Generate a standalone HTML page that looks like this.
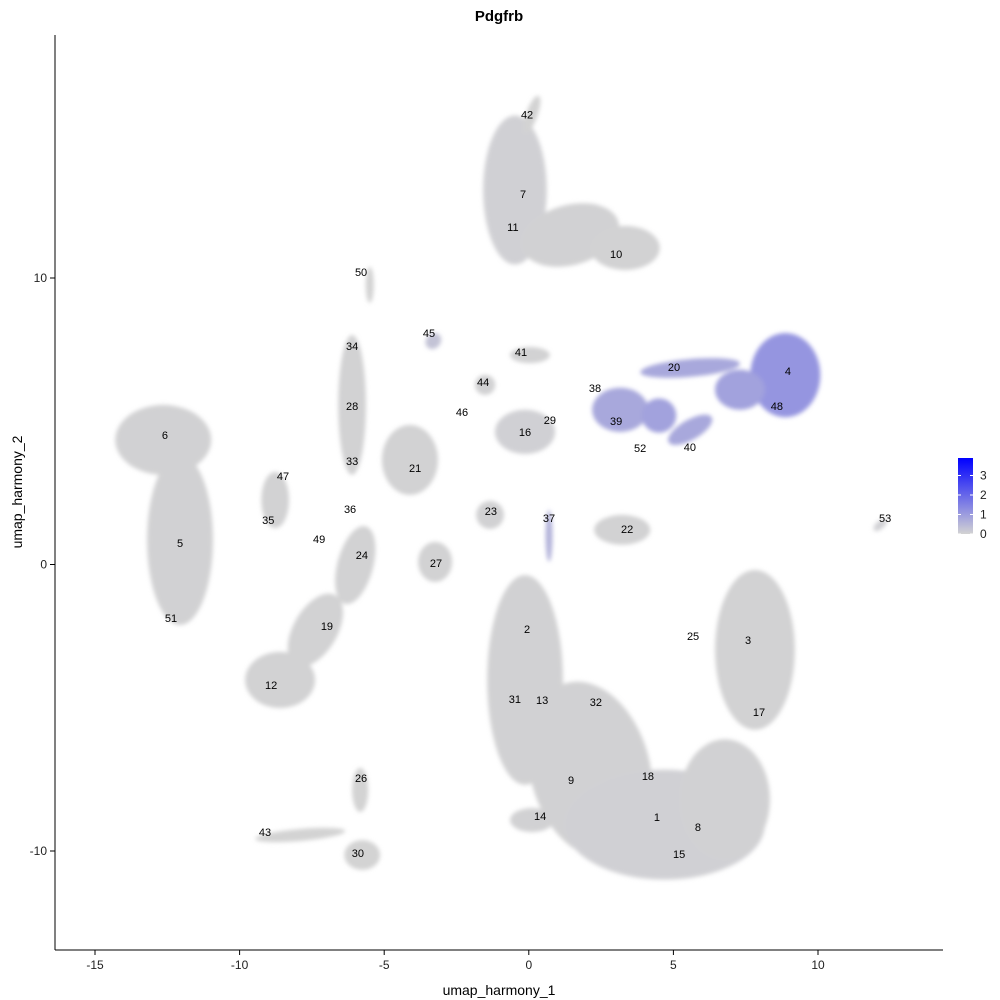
<!DOCTYPE html>
<html><head><meta charset="utf-8"><style>
body{margin:0;background:#fff}
svg{display:block;font-family:"Liberation Sans",sans-serif}
</style></head><body>
<svg id="chart" width="1000" height="1000" viewBox="0 0 1000 1000">
<defs>
<filter id="soft" x="-20%" y="-20%" width="140%" height="140%"><feGaussianBlur stdDeviation="2.2"/></filter>
<linearGradient id="cbar" x1="0" y1="1" x2="0" y2="0">
<stop offset="0" stop-color="#d3d3d3"/><stop offset="1" stop-color="#0000ff"/></linearGradient>
</defs>
<text x="499" y="21" text-anchor="middle" font-size="15" font-weight="bold">Pdgfrb</text>
<g id="blobs" filter="url(#soft)"></g>
<g id="labels"></g>
<g id="axes"></g>
<text x="499" y="995" text-anchor="middle" font-size="14">umap_harmony_1</text>
<text transform="translate(22,492) rotate(-90)" text-anchor="middle" font-size="14">umap_harmony_2</text>
<g>
<rect x="958" y="458" width="15" height="76" fill="url(#cbar)"/>
<g id="cbticks"></g>
</g>
</svg>
<script>
// cluster blobs in UMAP units: centre x, centre y, radius x, radius y, rotation, mean expression
const blobX=[-12.64,-12.06,-0.48,1.43,3.33,0.1,8.87,7.3,5.58,3.16,5.58,-0.13,2.12,4.7,7.82,6.78,-8.6,-7.38,-6.0,-6.11,-4.11,-3.24,-1.34,3.23,-0.13,-1.51,0.04,-8.77,-5.83,-5.76,-7.9,0.11,12.15,-5.5,-3.3,0.7,4.5];
const blobY=[4.35,0.86,13.07,11.5,11.05,15.7,6.61,6.1,6.86,5.4,4.7,-4.03,-7.17,-9.08,-2.98,-8.2,-4.03,-2.29,-0.02,5.57,3.65,0.09,1.73,1.21,4.63,6.27,7.31,2.25,-7.87,-10.14,-9.44,-8.92,1.38,9.76,7.8,1.0,5.2];
const blobRX=[1.66,1.14,1.1,1.73,1.2,0.2,1.21,0.86,1.73,0.97,0.86,1.31,2.07,3.46,1.38,1.56,1.21,0.76,0.62,0.48,0.97,0.59,0.48,0.97,1.04,0.35,0.69,0.48,0.28,0.62,1.56,0.76,0.28,0.14,0.25,0.12,0.6];
const blobRY=[1.22,2.97,2.6,1.05,0.77,0.7,1.47,0.7,0.31,0.77,0.35,3.66,3.14,1.92,2.79,2.1,0.98,1.4,1.4,2.44,1.22,0.7,0.49,0.52,0.77,0.35,0.28,0.98,0.77,0.52,0.21,0.42,0.14,0.63,0.3,0.9,0.6];
const blobRot=[0,0,0,-15,0,20,0,0,-5,0,-30,0,-15,0,0,0,0,30,15,0,0,0,0,0,0,0,0,0,0,0,-5,0,-40,0,40,0,0];
const blobExpr=[0.03,0.03,0.05,0.03,0.02,0,1.15,0.9,0.8,0.8,0.8,0.03,0.03,0.06,0.02,0.03,0.01,0.01,0.01,0.01,0.01,0.01,0.03,0.01,0.06,0.03,0.01,0.01,0,0,0,0.03,0.05,0,0.3,0.6,0.9];
const labelText=["42","7","11","10","50","45","34","41","20","4","38","44","48","28","46","29","39","6","16","52","40","33","21","47","23","36","37","35","53","22","49","5","24","27","51","19","2","25","3","12","31","13","32","17","26","18","9","14","1","8","43","30","15"];
const labelX=[-0.06,-0.2,-0.55,3.02,-5.8,-3.45,-6.11,-0.27,5.02,8.96,2.29,-1.58,8.58,-6.11,-2.31,0.73,3.02,-12.58,-0.13,3.85,5.57,-6.11,-3.93,-8.5,-1.31,-6.18,0.7,-9.01,12.32,3.4,-7.25,-12.06,-5.77,-3.21,-12.37,-6.98,-0.06,5.68,7.58,-8.91,-0.48,0.46,2.32,7.96,-5.8,4.12,1.46,0.39,4.43,5.85,-9.12,-5.91,5.2];
const labelY=[15.71,12.93,11.78,10.84,10.21,8.08,7.63,7.42,6.89,6.75,6.16,6.37,5.54,5.53,5.32,5.04,5.01,4.52,4.62,4.07,4.1,3.61,3.37,3.09,1.87,1.94,1.62,1.55,1.62,1.24,0.89,0.75,0.33,0.05,-1.87,-2.15,-2.25,-2.5,-2.64,-4.2,-4.69,-4.73,-4.8,-5.15,-7.45,-7.38,-7.52,-8.78,-8.81,-9.16,-9.34,-10.07,-10.1];
const xTicks=[-15,-10,-5,0,5,10];
const yTicks=[-10,0,10];
const cbTicks=[0,1,2,3];

const NS="http://www.w3.org/2000/svg";
const sx=v=>528.8+v*28.92;
const sy=v=>564.5-v*28.65;
const cbY=v=>534-v*19.5;
function col(e){const t=Math.min(e/3.9,1);
 const r=Math.round(211+(0-211)*t),g=Math.round(211+(0-211)*t),b=Math.round(211+(255-211)*t);
 return `rgb(${r},${g},${b})`;}
function mk(tag,attrs,parent){const el=document.createElementNS(NS,tag);for(const k in attrs)el.setAttribute(k,attrs[k]);parent.appendChild(el);return el;}
const gB=document.getElementById('blobs');
for(let i=0;i<blobX.length;i++){
 const el=mk('ellipse',{cx:sx(blobX[i]),cy:sy(blobY[i]),rx:blobRX[i]*28.92,ry:blobRY[i]*28.65,
  transform:`rotate(${blobRot[i]} ${sx(blobX[i])} ${sy(blobY[i])})`,fill:col(blobExpr[i])},gB);
 
 
}
const gL=document.getElementById('labels');
for(let i=0;i<labelText.length;i++){
 const t=mk('text',{x:sx(labelX[i]),y:sy(labelY[i])+4,'text-anchor':'middle','font-size':11},gL);
 t.textContent=labelText[i];
 
 
}
const gA=document.getElementById('axes');
mk('line',{x1:55,y1:35,x2:55,y2:950,stroke:'#000','stroke-width':1},gA);
mk('line',{x1:55,y1:950,x2:943,y2:950,stroke:'#000','stroke-width':1},gA);
xTicks.forEach(v=>{
 mk('line',{x1:sx(v),y1:950,x2:sx(v),y2:955,stroke:'#000'},gA);
 const t=mk('text',{x:sx(v),y:969,'text-anchor':'middle','font-size':12,fill:'#222'},gA);
 t.textContent=v;
 
 
});
yTicks.forEach(v=>{
 mk('line',{x1:50,y1:sy(v),x2:55,y2:sy(v),stroke:'#000'},gA);
 const t=mk('text',{x:47,y:sy(v)+4,'text-anchor':'end','font-size':12,fill:'#222'},gA);
 t.textContent=v;
 
 
});
const gC=document.getElementById('cbticks');
cbTicks.forEach(v=>{
 mk('line',{x1:958,y1:cbY(v),x2:961,y2:cbY(v),stroke:'#fff'},gC);
 mk('line',{x1:970,y1:cbY(v),x2:973,y2:cbY(v),stroke:'#fff'},gC);
 const t=mk('text',{x:980,y:cbY(v)+4,'font-size':12,fill:'#222'},gC);
 t.textContent=v;
 
 
});
</script>
</body></html>
